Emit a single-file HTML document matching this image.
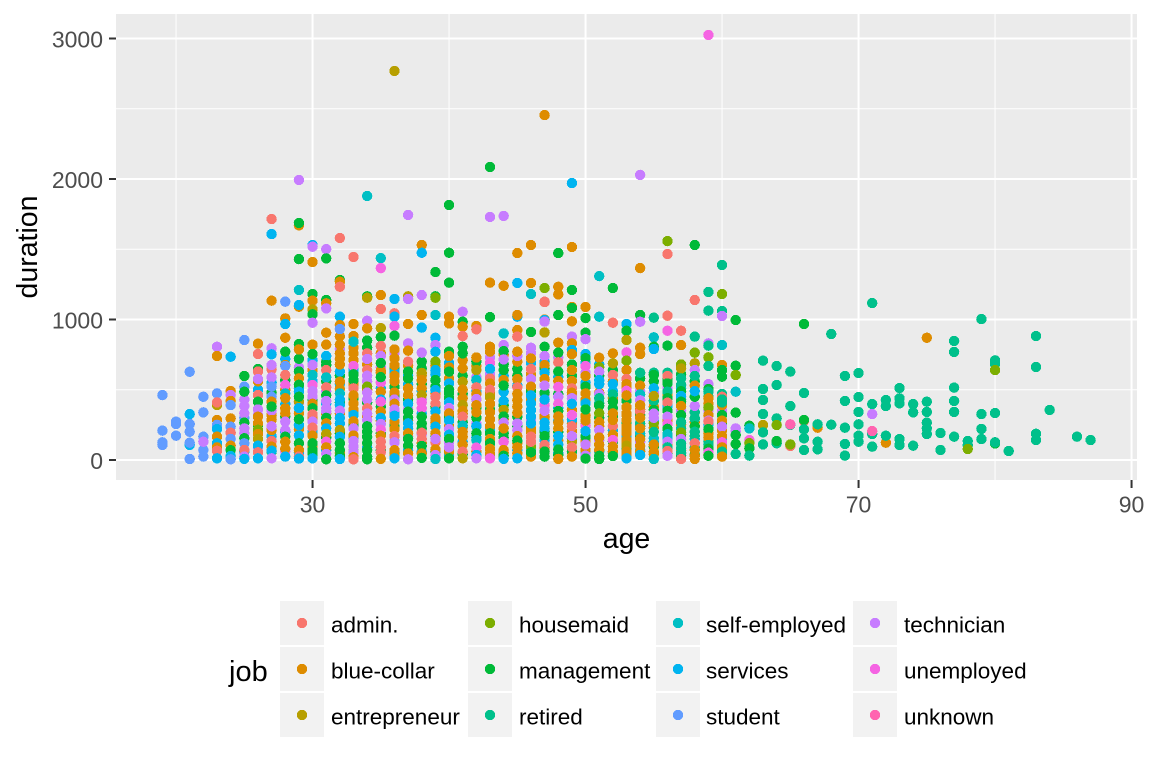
<!DOCTYPE html>
<html lang="en">
<head>
<meta charset="utf-8">
<title>Duration by age and job</title>
<style>
html,body{margin:0;padding:0;background:#fff;width:1152px;height:768px;overflow:hidden}
svg{display:block}
text{font-family:"Liberation Sans",Arial,sans-serif}
</style>
</head>
<body>
<svg id="chart" width="1152" height="768" viewBox="0 0 1152 768" xmlns="http://www.w3.org/2000/svg">
  <rect width="1152" height="768" fill="#fff"/>
  <rect x="116" y="14" width="1021" height="466" fill="#ebebeb"/>
  <g id="grid"></g>
  <g id="points"></g>
  <g id="axes"></g>
  <text x="626.5" y="548" font-size="28.5" text-anchor="middle" fill="#000">age</text>
  <text transform="translate(37,247) rotate(-90)" font-size="28.5" text-anchor="middle" fill="#000">duration</text>
  <text x="229" y="681" font-size="29" fill="#000">job</text>
  <g id="legend"></g>
</svg>
<script>
const jobs = ["admin.","blue-collar","entrepreneur","housemaid","management","retired","self-employed","services","student","technician","unemployed","unknown"];
const jobColors = ["#F8766D","#DE8C00","#B79F00","#7CAE00","#00BA38","#00C08B","#00BFC4","#00B4F0","#619CFF","#C77CFF","#F564E3","#FF64B0"];
const xMajorTicks = [30,50,70,90];
const xMinorTicks = [20,40,60,80];
const yMajorTicks = [0,1000,2000,3000];
const yMinorTicks = [500,1500,2500];
/* overplotted observations that sit mostly hidden inside the dense columns: [age, duration, job index] */
const hiddenObservations = [
[25,60,7],[25,300,8],[25,430,9],
[26,90,9],[26,250,4],[26,500,7],[26,560,1],
[27,60,4],[27,170,7],[27,320,1],[27,480,4],[27,550,7],
[28,60,9],[28,200,7],[28,310,4],[28,400,7],[28,500,1],[28,570,4],[28,720,7],
[29,50,7],[29,220,1],[29,410,9],[29,510,7],[29,660,9],[29,720,4],
[30,90,1],[30,200,7],[30,300,1],[30,430,4],[30,560,7],[30,640,1],[30,710,7],
[31,70,7],[31,160,4],[31,330,1],[31,400,7],[31,490,9],[31,560,4],[31,700,4],
[32,50,1],[32,190,4],[32,330,1],[32,410,4],[32,540,7],[32,600,4],[32,790,9],[32,880,1],
[33,60,4],[33,150,7],[33,250,4],[33,340,7],[33,440,4],[33,540,1],[33,640,7],[33,800,1],
[34,90,7],[34,200,7],[34,310,1],[34,410,4],[34,500,1],[34,680,1],[34,800,4],
[35,70,4],[35,190,4],[35,280,1],[35,380,4],[35,510,7],[35,620,1],[35,660,9],[35,760,1],
[36,50,4],[36,130,7],[36,240,4],[36,340,7],[36,450,4],[36,520,4],[36,660,4],[36,760,9],
[37,70,7],[37,170,9],[37,280,1],[37,360,9],[37,430,4],[37,540,7],[37,600,7],[37,670,1],
[38,60,7],[38,120,1],[38,180,9],[38,330,7],[38,430,9],[38,490,7],[38,540,4],[38,600,1],[38,700,4],
[39,60,4],[39,170,4],[39,270,1],[39,380,4],[39,470,1],[39,610,7],[39,670,1],
[40,40,7],[40,240,1],[40,310,4],[40,440,4],[40,580,1],[40,690,7],
[41,40,4],[41,130,7],[41,230,1],[41,270,4],[41,330,1],[41,470,4],[41,600,4],[41,710,1],
[42,60,1],[42,160,7],[42,260,9],[42,370,4],[42,430,0],[42,490,7],[42,590,9],[42,670,1],
[43,30,7],[43,210,7],[43,360,4],[43,470,1],[43,610,9],[43,730,9],
[44,50,1],[44,160,4],[44,290,1],[44,390,4],[44,600,7],[44,680,4],[44,750,1],
[45,70,7],[45,120,1],[45,240,4],[45,530,7],[45,650,4],[45,700,1],[45,740,9],
[46,80,7],[46,200,1],[46,290,9],[46,430,1],[46,490,4],[46,610,1],[46,690,7],[46,760,9],
[47,90,1],[47,140,7],[47,200,4],[47,300,1],[47,460,9],[47,650,4],[47,700,7],
[48,50,7],[48,140,1],[48,200,4],[48,280,7],[48,370,7],[48,470,4],[48,590,7],[48,730,9],
[49,60,4],[49,150,7],[49,260,1],[49,460,9],[49,600,4],[49,680,4],
[50,50,7],[50,135,1],[50,250,4],[50,430,1],[50,550,7],[50,620,9],[50,690,7],
[51,60,7],[51,140,9],[51,240,1],[51,300,4],[51,480,1],[51,540,7],[51,600,4],[51,680,7],
[52,50,7],[52,130,4],[52,210,7],[52,310,4],[52,440,1],[52,490,7],[52,560,1],[52,640,4],
[53,40,1],[53,75,4],[53,120,1],[53,165,7],[53,210,1],[53,260,4],[53,320,1],[53,460,7],[53,510,1],
[54,70,7],[54,130,9],[54,170,4],[54,240,1],[54,320,4],[54,360,1],[54,490,9],[54,580,4],
[55,40,1],[55,95,4],[55,130,7],[55,230,1],[55,280,7],[55,380,1],[55,420,5],[55,480,9],[55,560,4],
[56,50,4],[56,110,1],[56,155,7],[56,280,1],[56,380,7],[56,460,1],[56,510,9],[56,570,4],
[57,30,4],[57,70,1],[57,180,4],[57,250,1],[57,350,9],[57,430,5],[57,510,7],[57,610,4],
[58,40,4],[58,90,5],[58,150,7],[58,270,1],[58,340,5],[58,385,9],[58,450,4],[58,560,4],
[59,40,1],[59,130,5],[59,190,1],[59,250,7],[59,350,9],[59,400,1],[59,450,5],[59,540,9],
[60,30,4],[60,110,5],[60,150,7],[60,210,1],[60,260,4],[60,350,9],[60,390,1],[60,470,5]
];
/* clearly visible observations: [age, duration, job index], in draw order */
const observations = [
[19,462,8],[19,209,8],[19,126,8],[19,107,8],
[20,273,8],[20,256,8],[20,173,8],
[21,628,8],[21,327,7],[21,256,8],[21,201,8],[21,107,7],[21,123,8],[21,7,8],
[22,450,8],[22,339,8],[22,166,8],[22,71,8],[22,24,8],[22,130,9],
[23,806,9],[23,740,1],[23,474,8],[23,391,2],[23,410,0],[23,285,1],[23,250,8],[23,220,7],[23,166,1],[23,119,7],[23,90,1],[23,66,0],[23,12,7],
[24,735,7],[24,491,1],[24,462,9],[24,420,1],[24,391,8],[24,296,1],[24,237,8],[24,194,0],[24,150,8],[24,102,1],[24,70,4],[24,28,7],[24,5,8],
[25,854,8],[25,598,4],[25,522,8],[25,486,4],[25,384,9],[25,332,9],[25,266,4],[25,225,9],[25,190,9],[25,155,4],[25,119,8],[25,71,0],[25,24,9],[25,8,7],
[26,828,1],[26,754,0],[26,648,4],[26,630,0],[26,576,9],[26,462,0],[26,415,4],[26,360,9],[26,320,9],[26,308,1],[26,261,1],[26,215,3],[26,185,1],[26,150,2],[26,102,7],[26,55,0],[26,12,7],
[27,1134,1],[27,1715,0],[27,1608,7],[27,795,9],[27,752,7],[27,645,0],[27,676,9],[27,588,9],[27,522,8],[27,450,8],[27,415,1],[27,351,9],[27,380,4],[27,285,1],[27,213,1],[27,240,9],[27,135,0],[27,95,1],[27,66,7],[27,12,9],
[28,1127,8],[28,1008,1],[28,968,7],[28,870,1],[28,771,4],[28,676,1],[28,669,8],[28,605,0],[28,534,10],[28,474,6],[28,440,1],[28,368,1],[28,332,1],[28,273,9],[28,213,9],[28,166,4],[28,130,1],[28,80,1],[28,24,7],
[29,1670,1],[29,1687,4],[29,1993,9],[29,1430,4],[29,1210,6],[29,1091,1],[29,1103,7],[29,825,4],[29,787,1],[29,630,4],[29,581,1],[29,535,4],[29,486,7],[29,415,2],[29,450,4],[29,332,1],[29,370,7],[29,249,7],[29,290,4],[29,175,7],[29,119,4],[29,71,1],[29,24,0],[29,10,7],
[30,1530,7],[30,1518,9],[30,1409,1],[30,1181,4],[30,1134,1],[30,1072,2],[30,1037,4],[30,977,9],[30,821,1],[30,754,4],[30,676,9],[30,605,6],[30,534,10],[30,450,9],[30,490,9],[30,400,1],[30,368,4],[30,325,0],[30,273,9],[30,230,0],[30,173,1],[30,119,4],[30,71,4],[30,45,4],[30,12,7],
[31,1501,9],[31,1435,4],[31,1139,4],[31,1115,1],[31,1079,9],[31,906,1],[31,821,1],[31,740,7],[31,676,4],[31,640,0],[31,588,6],[31,517,0],[31,460,4],[31,420,9],[31,368,9],[31,345,9],[31,300,4],[31,261,1],[31,225,7],[31,185,2],[31,130,10],[31,90,1],[31,43,9],[31,5,4],
[32,1580,0],[32,1281,4],[32,1269,1],[32,1233,0],[32,1020,7],[32,960,1],[32,932,8],[32,821,1],[32,759,1],[32,720,1],[32,629,7],[32,680,1],[32,557,1],[32,505,1],[32,474,6],[32,430,7],[32,391,7],[32,351,9],[32,300,7],[32,260,7],[32,213,2],[32,165,7],[32,119,4],[32,71,4],[32,30,4],[32,7,7],
[33,1445,0],[33,968,1],[33,882,1],[33,842,6],[33,759,1],[33,712,1],[33,669,10],[33,569,4],[33,610,4],[33,510,0],[33,460,1],[33,403,1],[33,360,1],[33,320,7],[33,275,1],[33,225,9],[33,175,1],[33,135,9],[33,95,9],[33,55,9],[33,20,1],[33,5,0],
[34,1879,6],[34,1165,4],[34,1155,2],[34,991,9],[34,937,1],[34,850,4],[34,759,0],[34,719,9],[34,640,0],[34,600,9],[34,560,9],[34,522,3],[34,480,9],[34,430,9],[34,368,0],[34,330,9],[34,285,9],[34,240,4],[34,201,4],[34,165,4],[34,120,4],[34,70,4],[34,24,4],[34,5,4],
[35,1437,6],[35,1366,10],[35,1174,1],[35,1075,0],[35,939,2],[35,875,4],[35,811,0],[35,740,9],[35,636,1],[35,690,4],[35,550,10],[35,590,4],[35,486,1],[35,430,7],[35,415,10],[35,344,1],[35,300,7],[35,256,9],[35,215,10],[35,173,1],[35,130,0],[35,90,0],[35,55,0],[35,8,1],
[36,2769,2],[36,1146,7],[36,1044,0],[36,1020,7],[36,954,10],[36,885,4],[36,787,1],[36,723,1],[36,629,7],[36,675,1],[36,600,1],[36,560,1],[36,480,1],[36,430,9],[36,400,1],[36,360,9],[36,273,1],[36,315,7],[36,220,1],[36,170,0],[36,126,9],[36,70,1],[36,30,1],[36,12,7],
[37,1744,9],[37,1165,2],[37,1146,9],[37,968,1],[37,830,9],[37,778,1],[37,700,0],[37,629,4],[37,580,4],[37,510,1],[37,460,1],[37,400,7],[37,344,4],[37,300,4],[37,261,7],[37,225,7],[37,190,1],[37,150,4],[37,102,4],[37,47,1],[37,5,9],
[38,1530,1],[38,1475,7],[38,1174,9],[38,1032,1],[38,942,7],[38,764,9],[38,652,4],[38,620,2],[38,569,1],[38,510,1],[38,462,2],[38,410,10],[38,368,10],[38,308,4],[38,260,4],[38,225,4],[38,194,0],[38,150,0],[38,100,4],[38,47,1],[38,15,4],
[39,1338,4],[39,1165,4],[39,1155,3],[39,1032,6],[39,870,7],[39,818,9],[39,770,7],[39,700,3],[39,640,7],[39,569,4],[39,520,4],[39,498,7],[39,450,0],[39,400,0],[39,345,7],[39,296,1],[39,237,7],[39,190,1],[39,126,0],[39,150,9],[39,75,1],[39,35,9],[39,7,6],
[40,1815,4],[40,1475,4],[40,1262,4],[40,1020,1],[40,972,1],[40,771,4],[40,740,1],[40,659,1],[40,629,4],[40,545,7],[40,474,4],[40,500,4],[40,410,7],[40,370,9],[40,332,1],[40,280,7],[40,220,9],[40,180,7],[40,126,9],[40,150,4],[40,59,1],[40,90,9],[40,12,4],
[41,1055,9],[41,984,4],[41,949,1],[41,882,0],[41,806,4],[41,759,4],[41,652,1],[41,557,2],[41,500,1],[41,440,1],[41,391,2],[41,350,1],[41,308,0],[41,244,6],[41,200,1],[41,166,1],[41,110,1],[41,59,0],[41,12,2],
[42,954,1],[42,930,0],[42,700,4],[42,730,1],[42,640,2],[42,570,6],[42,517,0],[42,470,1],[42,434,9],[42,390,1],[42,301,4],[42,340,1],[42,240,7],[42,190,4],[42,142,6],[42,88,10],[42,36,7],[42,12,9],
[43,2085,4],[43,1730,9],[43,1262,1],[43,1017,4],[43,806,1],[43,771,1],[43,690,10],[43,648,7],[43,580,0],[43,545,1],[43,500,0],[43,446,2],[43,400,1],[43,340,1],[43,290,1],[43,240,1],[43,190,4],[43,150,1],[43,119,4],[43,47,1],[43,80,1],[43,12,10],
[44,1737,9],[44,1240,1],[44,901,6],[44,818,9],[44,775,4],[44,716,9],[44,640,4],[44,569,1],[44,486,7],[44,530,4],[44,420,7],[44,356,2],[44,310,4],[44,266,9],[44,190,4],[44,225,1],[44,130,10],[44,71,1],[44,30,4],[44,8,7],
[45,1473,1],[45,1260,7],[45,1020,7],[45,1032,1],[45,925,1],[45,878,0],[45,771,1],[45,600,4],[45,576,1],[45,517,0],[45,470,1],[45,425,1],[45,380,1],[45,308,4],[45,335,1],[45,260,9],[45,213,9],[45,170,1],[45,138,4],[45,90,1],[45,47,1],[45,12,7],
[46,1530,1],[46,1260,1],[46,1181,6],[46,911,4],[46,799,9],[46,723,1],[46,648,0],[46,576,9],[46,522,1],[46,460,7],[46,403,7],[46,308,7],[46,355,7],[46,225,1],[46,260,7],[46,166,0],[46,95,3],[46,130,0],[46,24,1],[46,55,4],
[47,2455,1],[47,1224,3],[47,1124,0],[47,1127,0],[47,1000,1],[47,996,7],[47,985,9],[47,908,2],[47,806,4],[47,740,9],[47,676,1],[47,620,7],[47,576,1],[47,479,4],[47,530,9],[47,391,10],[47,430,7],[47,313,1],[47,350,9],[47,225,7],[47,265,7],[47,170,4],[47,107,0],[47,60,4],[47,24,4],
[48,1473,4],[48,1233,1],[48,1179,1],[48,1032,4],[48,835,1],[48,764,4],[48,695,0],[48,630,4],[48,562,1],[48,520,10],[48,450,9],[48,400,10],[48,349,4],[48,310,1],[48,266,1],[48,225,1],[48,170,7],[48,111,7],[48,75,4],[48,36,4],[48,8,1],
[49,1971,7],[49,1516,1],[49,1210,4],[49,1089,1],[49,1082,4],[49,987,1],[49,878,9],[49,830,1],[49,783,7],[49,754,1],[49,640,1],[49,562,1],[49,510,0],[49,479,1],[49,440,9],[49,356,1],[49,400,7],[49,285,7],[49,320,10],[49,206,1],[49,240,0],[49,130,2],[49,170,9],[49,90,0],[49,24,1],
[50,1089,1],[50,1010,4],[50,906,4],[50,860,9],[50,754,7],[50,725,4],[50,669,10],[50,598,1],[50,522,4],[50,474,1],[50,403,7],[50,315,1],[50,360,4],[50,244,10],[50,280,1],[50,166,4],[50,205,7],[50,71,1],[50,110,9],[50,31,9],[50,10,4],
[51,1309,6],[51,1020,6],[51,728,1],[51,660,3],[51,629,9],[51,569,7],[51,470,9],[51,440,5],[51,405,5],[51,387,4],[51,332,3],[51,270,1],[51,213,9],[51,160,1],[51,110,1],[51,71,1],[51,30,4],[51,7,4],
[52,1224,4],[52,977,0],[52,759,1],[52,688,2],[52,605,0],[52,541,7],[52,467,5],[52,415,4],[52,370,4],[52,332,1],[52,242,0],[52,285,1],[52,180,1],[52,142,10],[52,95,1],[52,60,1],[52,28,4],
[53,968,7],[53,920,4],[53,854,2],[53,766,10],[53,707,3],[53,640,1],[53,576,0],[53,540,1],[53,493,10],[53,422,4],[53,460,1],[53,332,1],[53,375,1],[53,285,1],[53,240,1],[53,190,1],[53,145,1],[53,102,2],[53,60,1],[53,12,7],
[54,2029,9],[54,1366,1],[54,1032,4],[54,984,9],[54,799,1],[54,754,1],[54,621,5],[54,529,1],[54,467,6],[54,425,9],[54,344,0],[54,390,1],[54,261,5],[54,300,1],[54,190,6],[54,225,1],[54,150,1],[54,100,1],[54,59,1],[54,36,7],
[55,1013,5],[55,873,6],[55,806,4],[55,790,7],[55,621,5],[55,605,4],[55,510,7],[55,455,2],[55,356,4],[55,330,9],[55,261,3],[55,300,9],[55,154,6],[55,200,5],[55,110,1],[55,59,1],[55,7,6],
[56,1558,3],[56,1466,0],[56,1027,0],[56,920,10],[56,814,4],[56,621,5],[56,598,0],[56,545,4],[56,486,5],[56,440,4],[56,408,0],[56,350,4],[56,308,9],[56,256,10],[56,222,4],[56,183,6],[56,130,9],[56,90,5],[56,64,0],[56,30,9],
[57,920,0],[57,818,1],[57,680,3],[57,652,2],[57,581,5],[57,534,5],[57,490,4],[57,455,7],[57,415,4],[57,384,1],[57,320,4],[57,268,5],[57,222,5],[57,195,3],[57,149,9],[57,83,5],[57,115,5],[57,50,5],[57,7,0],
[58,1530,4],[58,1139,0],[58,878,5],[58,764,3],[58,688,2],[58,640,9],[58,598,5],[58,529,1],[58,490,7],[58,300,5],[58,292,5],[58,240,4],[58,201,5],[58,170,5],[58,119,0],[58,70,1],[58,30,1],[58,7,1],
[59,3025,10],[59,1196,5],[59,1063,5],[59,830,9],[59,814,5],[59,731,3],[59,669,5],[59,505,4],[59,486,5],[59,440,1],[59,372,3],[59,320,1],[59,280,9],[59,273,0],[59,220,4],[59,160,1],[59,107,5],[59,80,4],[59,52,10],[59,30,4],
[60,1388,5],[60,1181,3],[60,1060,5],[60,1025,9],[60,818,6],[60,676,1],[60,640,4],[60,593,4],[60,450,0],[60,430,5],[60,410,5],[60,320,4],[60,280,1],[60,237,9],[60,170,1],[60,126,10],[60,90,1],[60,59,5],[60,24,1],
[61,996,4],[61,671,4],[61,605,3],[61,486,6],[61,337,4],[61,225,9],[61,205,9],[61,178,4],[61,114,4],[61,43,5],
[62,244,4],[62,225,6],[62,142,10],[62,120,3],[62,83,4],[62,31,5],
[63,707,5],[63,505,5],[63,427,5],[63,327,5],[63,249,2],[63,197,5],[63,111,5],
[64,669,5],[64,534,5],[64,296,5],[64,249,3],[64,119,5],[64,135,4],
[65,629,5],[65,384,5],[65,250,5],[65,254,11],[65,100,0],[65,111,3],
[66,968,4],[66,477,5],[66,278,0],[66,285,4],[66,218,5],[66,154,5],[66,71,5],
[67,230,1],[67,254,5],[67,130,5],[67,76,5],
[68,897,5],[68,251,5],
[69,598,5],[69,420,5],[69,230,5],[69,114,5],[69,31,5],
[70,619,5],[70,448,5],[70,342,5],[70,254,5],[70,173,5],[70,130,5],
[71,1117,5],[71,398,5],[71,327,9],[71,185,5],[71,206,11],[71,95,5],
[72,427,5],[72,384,5],[72,123,1],[72,173,5],
[73,512,5],[73,439,5],[73,403,5],[73,149,5],[73,107,5],
[74,398,5],[74,339,5],[74,102,5],
[75,870,1],[75,415,5],[75,342,5],[75,266,5],[75,225,5],[75,185,5],
[76,192,5],[76,71,5],
[77,847,5],[77,769,5],[77,515,5],[77,420,5],[77,342,5],[77,166,5],
[78,135,5],[78,105,5],[78,78,3],
[79,1003,5],[79,327,5],[79,221,5],[79,149,5],
[80,709,5],[80,683,5],[80,640,3],[80,334,5],[80,118,4],[80,126,5],
[81,64,5],
[83,882,5],[83,662,5],[83,187,5],[83,142,5],
[84,356,5],
[86,166,5],
[87,142,5]
];
const svgNS = "http://www.w3.org/2000/svg";
function xScale(age){ return 116 + (age - 15.6) * 13.65; }
function yScale(duration){ return 460 - duration * 0.1405; }
function make(tag, attrs, parent){
  const el = document.createElementNS(svgNS, tag);
  for (const k in attrs) el.setAttribute(k, attrs[k]);
  parent.appendChild(el);
  return el;
}
const grid = document.getElementById("grid");
const pointsLayer = document.getElementById("points");
const axes = document.getElementById("axes");
const legend = document.getElementById("legend");

yMinorTicks.forEach(function(v){
  const l = make("line",{x1:116,x2:1137,y1:yScale(v),y2:yScale(v),stroke:"#fff","stroke-width":1},grid);
  
  
});
xMinorTicks.forEach(function(v){
  const l = make("line",{x1:xScale(v),x2:xScale(v),y1:14,y2:480,stroke:"#fff","stroke-width":1},grid);
  
  
});
yMajorTicks.forEach(function(v){
  const y = yScale(v);
  const l = make("line",{x1:116,x2:1137,y1:y,y2:y,stroke:"#fff","stroke-width":2},grid);
  
  
  const t = make("line",{x1:109,x2:116,y1:y,y2:y,stroke:"#333","stroke-width":2},axes);
  
  
  const s = make("text",{x:103,y:y+9,"text-anchor":"end","font-size":23,fill:"#4d4d4d"},axes);
  
  
  s.textContent = String(v);
});
xMajorTicks.forEach(function(v){
  const x = xScale(v);
  const l = make("line",{x1:x,x2:x,y1:14,y2:480,stroke:"#fff","stroke-width":2},grid);
  
  
  const t = make("line",{x1:x,x2:x,y1:480,y2:488,stroke:"#333","stroke-width":2},axes);
  
  
  const s = make("text",{x:x,y:512.5,"text-anchor":"middle","font-size":23,fill:"#4d4d4d"},axes);
  
  
  s.textContent = String(v);
});
hiddenObservations.concat(observations).forEach(function(o){
  const c = make("circle",{cx:xScale(o[0]),cy:yScale(o[1]),r:5.2,fill:jobColors[o[2]],"shape-rendering":"crispEdges"},pointsLayer);
  
  
});
/* legend layout */
const legendCols = [280,468,656,853];
const legendTextX = [331,519,706,904];
const legendRows = [601,647,693];
jobs.forEach(function(name,i){
  const col = Math.floor(i/3), row = i%3;
  const g = make("g",{},legend);
  
  
  const k = make("rect",{x:legendCols[col],y:legendRows[row],width:44,height:44,fill:"#f2f2f2"},g);
  
  
  const d = make("circle",{cx:legendCols[col]+22,cy:legendRows[row]+22,r:5.2,fill:jobColors[i],"shape-rendering":"crispEdges"},g);
  
  
  const t = make("text",{x:legendTextX[col],y:legendRows[row]+31.5,"font-size":22.5,fill:"#000"},g);
  
  
  t.textContent = name;
});
</script>
</body>
</html>
